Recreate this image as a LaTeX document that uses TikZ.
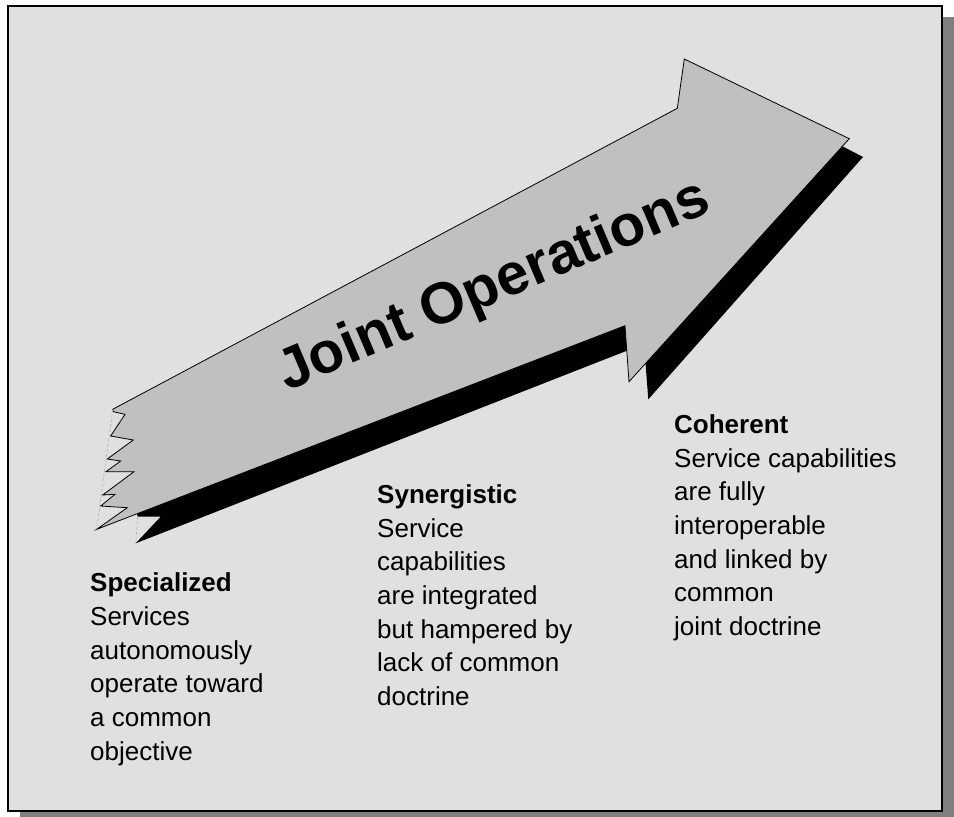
\documentclass[tikz,border=0pt]{standalone}
\usepackage{fontspec}
\setmainfont{Liberation Sans}
\definecolor{bgpanel}{RGB}{224,224,224}
\definecolor{arrowgray}{RGB}{192,192,192}
\definecolor{frameshadow}{RGB}{128,128,128}
\definecolor{faintline}{RGB}{170,170,170}
\begin{document}
\begin{tikzpicture}[x=1pt,y=-1pt,
  labeltext/.style={anchor=base west, inner sep=0pt, font=\fontsize{26}{33.7}\selectfont},
  titletext/.style={anchor=base, inner sep=0pt, rotate=23, font=\bfseries\fontsize{58.2}{60}\selectfont},
  arrowbody/.style={fill=arrowgray, draw=black, line width=0.8pt, line join=miter},
  arrowshadow/.style={fill=black},
  faint/.style={draw=faintline, dashed, dash pattern=on 3pt off 2pt, line width=0.5pt}]
\useasboundingbox (0,0) rectangle (954,817);
\fill[white] (0,0) rectangle (954,817);
% frame shadow and frame
\fill[frameshadow] (20,17) rectangle (954,817);
\draw[line width=2.5pt, fill=bgpanel] (8,6) rectangle (942,811);
% arrow shadow
\fill[arrowshadow] (840,145) -- (863,157) -- (648.3,399.3) -- (644,344)
  -- (135.7,543.3) -- (160.7,516.7) -- (137.7,516.7) -- (130,480) -- (600,250) -- cycle;
\draw[faint] (137.7,516.7) -- (135.7,543.3);
% arrow
\draw[arrowbody] (112.7,409.3) -- (677.3,108.3) -- (684.3,59) -- (849.3,138.7)
  -- (629,381.7) -- (625,325.7) -- (96.7,529.3)
  -- (127.3,507.7) -- (100.7,506) -- (115,494.3) -- (102.7,495)
  -- (134,471.7) -- (106,471.7) -- (120.7,461) -- (107.3,459)
  -- (133.3,440) -- (110.7,436) -- (125,414.3) -- (113.3,411.7) -- cycle;
\draw[faint] (112.7,409.3) -- (96.7,529.3);
% title
\node[titletext] (title) at (500,301) {Joint Operations};
% labels
\node[labeltext] (spec) at (90,591.7) {\begin{tabular}[t]{@{}l@{}}\textbf{Specialized}\\Services\\autonomously\\operate toward\\a common\\objective\end{tabular}};
\node[labeltext] (syn) at (377,503.3) {\begin{tabular}[t]{@{}l@{}}\textbf{Synergistic}\\Service\\capabilities\\are integrated\\but hampered by\\lack of common\\doctrine\end{tabular}};
\node[labeltext] (coh) at (674,433.3) {\begin{tabular}[t]{@{}l@{}}\textbf{Coherent}\\Service capabilities\\are fully\\interoperable\\and linked by\\common\\joint doctrine\end{tabular}};
\end{tikzpicture}
\end{document}
